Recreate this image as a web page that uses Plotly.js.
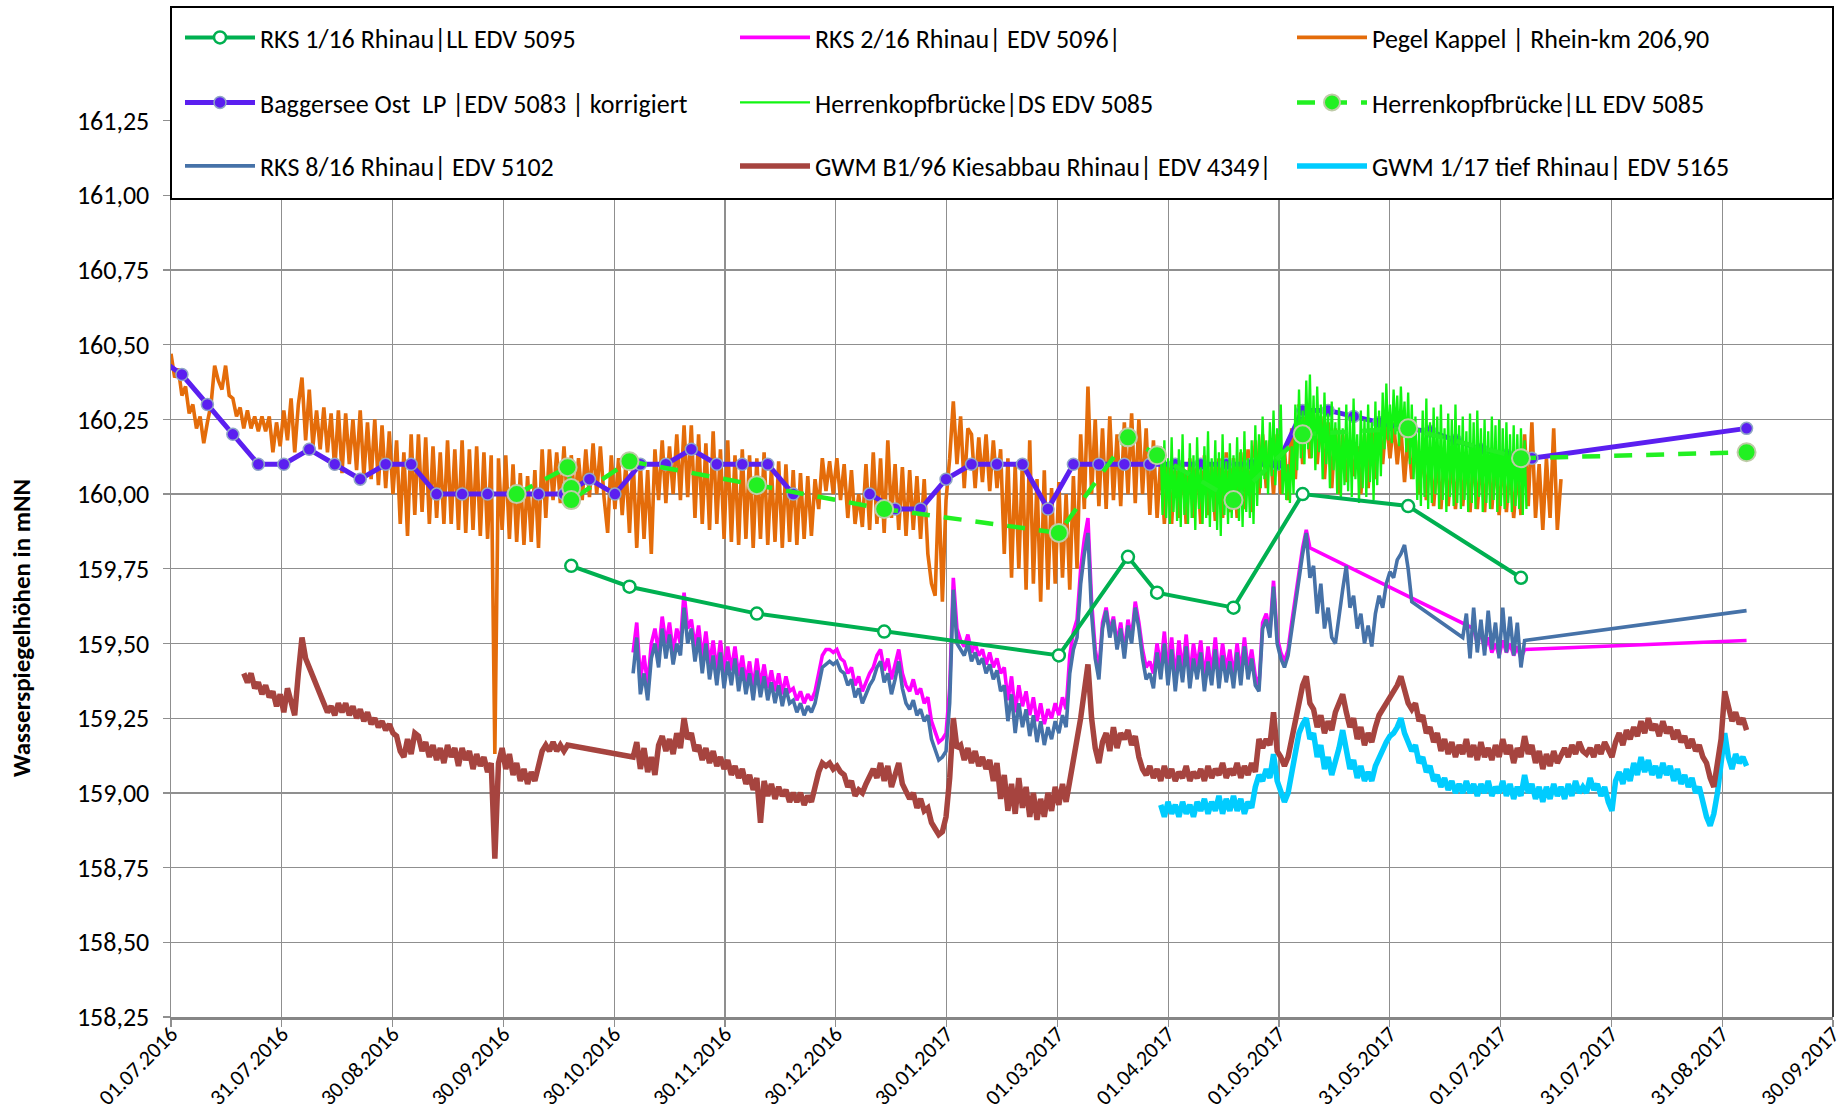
<!DOCTYPE html>
<html><head><meta charset="utf-8">
<script src="https://cdn.plot.ly/plotly-3.0.1.min.js"></script>
<style>html,body{margin:0;padding:0;background:#fff;}#chart{width:1845px;height:1115px;}</style>
</head><body><div id="chart"></div>
<script>
// ---------- DATA ----------
const yTickVals = [158.25,158.5,158.75,159,159.25,159.5,159.75,160,160.25,160.5,160.75,161,161.25];

// RKS 1/16 Rhinau | LL EDV 5095 (manual readings)
const rks1Dates = ['2016-10-19','2016-11-04','2016-12-09','2017-01-13','2017-03-02','2017-03-21','2017-03-29','2017-04-19','2017-05-08','2017-06-06','2017-07-07'];
const rks1Vals  = [159.76,159.69,159.60,159.54,159.46,159.79,159.67,159.62,160.00,159.96,159.72];

// Herrenkopfbrücke | LL EDV 5085 (manual readings)
const hkLLDates = ['2016-10-04','2016-10-18','2016-10-19','2016-10-19','2016-11-04','2016-12-09','2017-01-13','2017-03-02','2017-03-21','2017-03-29','2017-04-19','2017-05-08','2017-06-06','2017-07-07','2017-09-07'];
const hkLLVals  = [160.00,160.09,160.02,159.98,160.11,160.03,159.95,159.87,160.19,160.13,159.98,160.20,160.22,160.12,160.14];

// Baggersee Ost LP | EDV 5083 | korrigiert (weekly)
const bagDates = ['2016-06-27','2016-07-04','2016-07-11','2016-07-18','2016-07-25','2016-08-01','2016-08-08','2016-08-15','2016-08-22','2016-08-29','2016-09-05','2016-09-12','2016-09-19','2016-09-26','2016-10-03','2016-10-10','2016-10-17','2016-10-24','2016-10-31','2016-11-07','2016-11-14','2016-11-21','2016-11-28','2016-12-05','2016-12-12','2016-12-19','2016-12-30','2017-01-09','2017-01-16','2017-01-23','2017-01-30','2017-02-06','2017-02-13','2017-02-20','2017-02-27','2017-03-06','2017-03-13','2017-03-20','2017-03-27','2017-04-03','2017-04-10','2017-04-17','2017-04-24','2017-05-01','2017-05-08','2017-05-15','2017-05-22','2017-05-29','2017-06-05','2017-06-12','2017-06-19','2017-06-26','2017-07-03','2017-07-10','2017-09-07'];
const bagVals  = [160.46,160.40,160.30,160.20,160.10,160.10,160.15,160.10,160.05,160.10,160.10,160.00,160.00,160.00,160.00,160.00,160.00,160.05,160.00,160.10,160.10,160.15,160.10,160.10,160.10,160.00,null,160.00,159.95,159.95,160.05,160.10,160.10,160.10,159.95,160.10,160.10,160.10,160.10,160.10,160.10,160.10,160.10,160.10,160.28,160.28,160.26,160.24,160.22,160.21,160.18,160.15,160.13,160.12,160.22];

// Pegel Kappel | Rhein-km 206,90 (daily from 2016-07-01)
const pegelStart = '2016-07-01';
const pegelVals = [
160.47,160.39,160.42,160.33,160.36,160.27,160.30,160.22,160.26,160.17,
160.24,160.30,160.43,160.38,160.35,160.43,160.33,160.32,160.26,160.29,
160.22,160.28,160.22,160.26,160.21,160.26,160.21,160.26,160.14,160.24,
160.16,160.28,160.18,160.32,160.14,160.30,160.39,160.18,160.35,160.16,
160.28,160.15,160.29,160.14,160.27,160.08,160.28,160.07,160.27,160.10,
160.25,160.08,160.28,160.06,160.24,160.05,160.25,160.03,160.23,160.02,
160.21,160.00,160.18,159.90,160.14,159.86,160.20,159.93,160.20,159.94,
160.19,159.90,160.16,159.92,160.14,159.90,160.18,159.90,160.15,159.88,
160.18,159.87,160.15,159.88,160.16,159.86,160.14,159.85,160.13,159.13,
160.12,159.88,160.13,159.85,160.10,159.84,160.07,159.83,160.06,159.84,
160.08,159.82,160.15,159.92,160.15,159.98,160.14,159.97,160.16,159.96,
160.13,159.97,160.12,159.98,160.15,159.99,160.17,160.00,160.16,159.99,
159.87,160.13,159.95,160.12,159.93,160.10,159.87,160.12,159.82,160.10,
159.85,160.08,159.80,160.15,159.98,160.18,159.97,160.16,160.00,160.20,
159.98,160.23,159.99,160.23,159.92,160.20,159.90,160.17,159.88,160.21,
159.90,160.15,159.85,160.18,159.84,160.13,159.83,160.15,159.85,160.13,
159.82,160.12,159.85,160.14,159.83,160.09,159.84,160.11,159.82,160.10,
159.84,160.08,159.83,160.07,159.85,160.06,159.86,160.05,159.95,160.12,
160.01,160.11,160.00,160.12,159.98,160.10,159.92,160.08,159.90,160.00,
159.89,160.10,159.88,160.14,159.90,160.12,159.87,160.18,159.92,160.10,
159.88,160.09,159.86,160.08,159.88,160.06,159.85,160.05,159.80,159.70,
159.66,160.02,159.64,159.98,160.12,160.31,160.10,160.26,160.02,160.22,
160.20,160.02,160.19,160.04,160.20,160.01,160.18,160.02,160.15,159.80,
160.12,159.72,160.10,159.75,160.12,159.68,160.18,159.70,160.05,159.64,
160.08,159.68,160.02,159.70,160.04,159.72,160.00,159.68,160.06,159.75,
160.20,159.95,160.36,160.00,160.25,159.96,160.22,159.95,160.26,159.98,
160.20,159.96,160.24,160.00,160.27,159.97,160.25,160.00,160.22,159.93,
160.18,159.92,160.12,159.90,160.10,159.90,160.12,159.92,160.10,159.90,
160.12,159.92,160.11,159.90,160.13,159.93,160.10,159.91,160.12,159.92,
160.14,159.94,160.12,159.92,160.14,159.95,160.15,159.94,160.18,160.00,
160.20,160.02,160.18,160.00,160.20,160.00,160.15,159.98,160.22,160.05,
160.30,160.10,160.28,160.12,160.27,160.10,160.26,160.05,160.24,160.02,
160.22,160.00,160.20,160.04,160.18,160.06,160.16,160.00,160.20,160.02,
160.22,160.05,160.25,160.10,160.26,160.12,160.24,160.10,160.22,160.04,
160.20,160.05,160.18,160.00,160.15,159.98,160.14,159.96,160.12,159.95,
160.14,159.96,160.12,159.95,160.14,159.96,160.12,159.94,160.13,159.95,
160.12,159.94,160.13,159.95,160.12,159.93,160.12,159.94,160.10,159.92,
160.08,159.93,160.20,159.96,160.24,159.92,160.10,159.88,160.12,159.92,
160.22,159.88,160.05];

// Herrenkopfbrücke | DS EDV 5085 (twice daily from 2017-03-30)
const hkDSStart = '2017-03-30';
const hkDSVals = [
160.16,159.93,160.18,159.92,160.12,159.90,160.19,159.94,160.10,159.91,160.15,159.89,160.20,159.93,160.08,159.90,160.17,159.92,160.13,159.88,
160.19,159.95,160.09,159.90,160.16,159.92,160.21,159.89,160.12,159.94,160.18,159.88,160.14,159.86,160.20,159.93,160.11,159.90,160.17,159.92,
160.13,159.95,160.19,159.91,160.15,159.89,160.21,159.94,160.12,159.92,160.18,159.90,160.23,159.96,160.20,160.02,160.26,160.05,160.18,160.00,
160.24,160.06,160.28,160.03,160.22,160.08,160.30,160.00,160.14,159.98,160.10,159.97,160.16,160.00,160.30,160.08,160.35,160.12,160.28,160.10,
160.38,160.15,160.40,160.12,160.33,160.08,160.36,160.14,160.30,160.05,160.34,160.10,160.27,160.02,160.31,160.08,160.24,160.00,160.29,159.98,
160.22,160.03,160.30,160.01,160.26,159.99,160.32,160.05,160.20,159.97,160.28,160.02,160.25,159.99,160.30,160.04,160.24,159.98,160.31,160.03,
160.28,160.06,160.34,160.15,160.37,160.18,160.30,160.17,160.35,160.20,160.33,160.16,160.36,160.19,160.31,160.14,160.34,160.10,160.30,160.05,
160.26,159.98,160.22,159.96,160.28,159.99,160.32,159.95,160.24,159.97,160.29,160.00,160.26,159.95,160.30,159.98,160.22,159.94,160.27,159.99,
160.25,159.96,160.30,159.97,160.23,159.95,160.26,159.98,160.21,159.94,160.27,159.97,160.24,159.95,160.28,159.99,160.22,159.94,160.25,159.97,
160.21,159.95,160.26,159.98,160.23,159.94,160.25,159.96,160.22,159.95,160.24,159.97,160.20,159.94,160.23,159.96,160.20,159.95,160.22,159.93,
160.18,159.95];

// RKS 8/16 Rhinau | EDV 5102 (daily, two records + last value)
const rks8Start1 = '2016-11-05';
const rks8Vals1 = [
159.40,159.52,159.33,159.40,159.31,159.45,159.50,159.42,159.55,159.45,
159.53,159.43,159.50,159.46,159.62,159.50,159.55,159.44,159.52,159.40,
159.50,159.38,159.46,159.36,159.47,159.35,159.44,159.36,159.45,159.34,
159.42,159.33,159.40,159.31,159.41,159.32,159.39,159.31,159.37,159.30,
159.36,159.29,159.35,159.30,159.31,159.27,159.30,159.26,159.29,159.27,
159.30,159.36,159.42,159.43,159.44,159.43,159.44,159.41,159.40,159.36,
159.38,159.32,159.35,159.30,159.33,159.36,159.38,159.42,159.44,159.37,
159.40,159.33,159.38,159.44,159.35,159.30,159.28,159.31,159.26,159.28,
159.24,159.26,159.18,159.14,159.11,159.12,159.14,159.30,159.68,159.50,
159.48,159.46,159.50,159.44,159.47,159.43,159.45,159.40,159.43,159.38,
159.41,159.34,159.36,159.24,159.33,159.20,159.30,159.22,159.28,159.19,
159.26,159.17,159.24,159.16,159.22,159.18,159.24,159.20,159.26,159.22,
159.40,159.48,159.52,159.70,159.80,159.87,159.60,159.45,159.38,159.55,
159.61,159.52,159.58,159.48,159.55,159.45,159.56,159.50,159.62,159.55,
159.45,159.38,159.40,159.35,159.47,159.38,159.50,159.36,159.48,159.34,
159.46,159.37,159.49,159.35,159.45,159.38,159.47,159.34,159.44,159.36,
159.48,159.35,159.46,159.37,159.44,159.35,159.47,159.36,159.49,159.38,
159.45,159.36,159.34,159.55,159.58,159.52,159.69,159.50,159.45,159.42,
159.46,159.55,159.64,159.72,159.80,159.87,159.72,159.76,159.60,159.70,
159.55,159.62,159.52,159.50,159.60,159.68,159.76,159.62,159.66,159.55,
159.60,159.50,159.56,159.49,159.60,159.66,159.62,159.70,159.74,159.72,
159.78,159.80,159.83,159.75,159.64];
const rks8Start2 = '2017-06-21';
const rks8Vals2 = [159.52,159.60,159.45,159.62,159.47,159.58,159.46,159.61,159.48,159.57,159.45,159.62,159.47,159.59,159.46,159.57,159.42,159.51];
const rks8LastDate = '2017-09-07', rks8LastVal = 159.61;

// RKS 2/16 Rhinau | EDV 5096
const rks2Start1 = '2016-11-05';
const rks2Vals1 = [
159.47,159.57,159.38,159.46,159.36,159.50,159.55,159.47,159.59,159.50,
159.57,159.47,159.55,159.50,159.67,159.55,159.58,159.49,159.56,159.45,
159.54,159.43,159.51,159.41,159.51,159.40,159.49,159.41,159.49,159.39,
159.46,159.37,159.44,159.35,159.45,159.36,159.43,159.35,159.41,159.34,
159.40,159.33,159.39,159.34,159.35,159.31,159.34,159.30,159.33,159.31,
159.34,159.40,159.46,159.48,159.48,159.47,159.48,159.45,159.44,159.40,
159.42,159.36,159.39,159.34,159.37,159.40,159.42,159.46,159.48,159.41,
159.45,159.38,159.43,159.48,159.40,159.36,159.34,159.38,159.33,159.35,
159.30,159.32,159.24,159.20,159.17,159.18,159.20,159.35,159.72,159.55,
159.51,159.49,159.53,159.47,159.50,159.46,159.48,159.43,159.47,159.42,
159.45,159.40,159.42,159.31,159.39,159.27,159.36,159.29,159.34,159.26,
159.32,159.24,159.30,159.23,159.28,159.25,159.30,159.26,159.32,159.28,
159.46,159.54,159.58,159.75,159.85,159.92,159.64,159.48,159.41,159.57,
159.62,159.54,159.59,159.50,159.57,159.47,159.58,159.52,159.64,159.57,
159.48,159.42,159.44,159.40,159.50,159.42,159.54,159.40,159.52,159.38,
159.51,159.41,159.53,159.39,159.50,159.42,159.51,159.38,159.49,159.40,
159.52,159.39,159.50,159.41,159.48,159.39,159.50,159.40,159.52,159.41,
159.48,159.39,159.36,159.57,159.60,159.54,159.71,159.52,159.47,159.44,
159.48,159.57,159.66,159.74,159.82,159.88,159.82];
const rks2Start2 = '2017-06-24';
const rks2Vals2 = [159.55,159.50,159.54,159.48,159.52,159.47,159.50,159.46,159.51,159.47,159.50,159.46,159.49,159.45,159.48];
const rks2LastDate = '2017-09-07', rks2LastVal = 159.51;

// GWM B1/96 Kiesabbau Rhinau | EDV 4349
const gwmB1Start1 = '2016-07-21';
const gwmB1Vals1 = [
159.40,159.37,159.40,159.35,159.37,159.33,159.36,159.32,159.34,159.29,
159.33,159.27,159.35,159.30,159.26,159.40,159.52,159.45,159.42,159.38,
159.35,159.32,159.30,159.27,159.29,159.26,159.30,159.27,159.30,159.26,
159.29,159.25,159.28,159.24,159.27,159.23,159.25,159.22,159.24,159.21,
159.23,159.20,159.19,159.14,159.12,159.18,159.13,159.20,159.19,159.14,
159.17,159.12,159.16,159.11,159.15,159.10,159.16,159.12,159.15,159.09,
159.15,159.11,159.14,159.08,159.13,159.09,159.12,159.07,159.10,158.78,
159.10,159.15,159.08,159.13,159.06,159.10,159.04,159.08,159.03,159.07,
159.04,159.09,159.14,159.16,159.14,159.17,159.14,159.16,159.14,159.16];
const gwmB1Start2 = '2016-11-05';
const gwmB1Vals2 = [
159.12,159.17,159.08,159.15,159.07,159.12,159.06,159.16,159.19,159.14,
159.18,159.13,159.20,159.15,159.25,159.18,159.20,159.14,159.16,159.11,
159.15,159.10,159.14,159.09,159.12,159.08,159.11,159.06,159.09,159.05,
159.08,159.03,159.06,159.01,159.05,158.90,159.04,158.99,159.03,158.98,
159.02,158.99,159.01,158.97,159.00,158.97,159.00,158.96,158.99,158.97,
159.02,159.07,159.10,159.09,159.10,159.08,159.09,159.07,159.06,159.02,
159.04,158.99,159.01,159.00,159.03,159.06,159.08,159.05,159.10,159.04,
159.09,159.02,159.06,159.10,159.03,159.00,158.98,159.00,158.95,158.98,
158.94,158.95,158.90,158.88,158.86,158.87,158.92,159.05,159.25,159.15,
159.16,159.11,159.15,159.10,159.14,159.09,159.12,159.08,159.11,159.04,
159.10,158.98,159.06,158.94,159.03,158.93,159.05,158.95,159.02,158.92,
159.00,158.91,158.98,158.92,159.00,158.94,159.02,158.96,159.03,158.97,
159.05,159.12,159.18,159.25,159.35,159.43,159.25,159.15,159.10,159.17,
159.20,159.14,159.22,159.15,159.20,159.18,159.21,159.16,159.19,159.12,
159.08,159.06,159.09,159.05,159.08,159.04,159.09,159.05,159.08,159.04,
159.07,159.05,159.09,159.04,159.07,159.05,159.08,159.04,159.09,159.05,
159.08,159.06,159.10,159.05,159.08,159.06,159.10,159.05,159.09,159.06,
159.10,159.07,159.18,159.15,159.18,159.16,159.27,159.14,159.12,159.09,
159.12,159.18,159.26,159.32,159.36,159.39,159.30,159.28,159.22,159.26,
159.20,159.24,159.21,159.27,159.30,159.33,159.27,159.22,159.25,159.18,
159.22,159.16,159.20,159.17,159.22,159.26,159.28,159.30,159.32,159.34,
159.36,159.39,159.35,159.30,159.28,159.30,159.24,159.26,159.20,159.22,
159.17,159.20,159.14,159.18,159.13,159.17,159.12,159.16,159.13,159.18,
159.12,159.16,159.11,159.17,159.12,159.15,159.11,159.16,159.12,159.18,
159.13,159.16,159.10,159.15,159.12,159.19,159.13,159.16,159.10,159.14,
159.08,159.13,159.09,159.14,159.10,159.13,159.15,159.12,159.16,159.13,
159.17,159.14,159.13,159.15,159.12,159.16,159.13,159.17,159.14,159.12,
159.17,159.20,159.16,159.21,159.18,159.22,159.19,159.24,159.20,159.25,
159.21,159.23,159.19,159.24,159.20,159.22,159.18,159.21,159.17,159.19,
159.15,159.18,159.14,159.16,159.12,159.10,159.05,159.02,159.10,159.18,
159.34,159.28,159.24,159.27,159.23,159.25,159.21];

// GWM 1/17 tief Rhinau | EDV 5165
const gwm117Start = '2017-03-30';
const gwm117Vals = [
158.96,158.92,158.97,158.93,158.96,158.92,158.97,158.93,158.96,158.92,
158.97,158.94,158.98,158.93,158.97,158.94,158.99,158.93,158.98,158.94,
158.99,158.94,158.98,158.93,158.97,158.95,159.02,159.06,159.04,159.08,
159.05,159.13,159.04,159.00,158.97,159.00,159.06,159.14,159.20,159.23,
159.25,159.18,159.20,159.12,159.16,159.08,159.12,159.06,159.10,159.15,
159.21,159.14,159.08,159.11,159.05,159.09,159.04,159.07,159.04,159.09,
159.12,159.15,159.17,159.19,159.20,159.22,159.25,159.20,159.17,159.14,
159.16,159.10,159.12,159.07,159.09,159.04,159.06,159.02,159.05,159.01,
159.04,159.00,159.03,159.00,159.04,159.00,159.03,158.99,159.03,159.00,
159.04,158.99,159.02,159.00,159.04,158.99,159.03,158.98,159.02,158.99,
159.06,159.00,159.03,158.98,159.02,158.97,159.02,158.98,159.03,158.99,
159.02,158.98,159.03,158.99,159.04,159.00,159.02,159.00,159.05,159.01,
159.03,158.99,159.02,158.97,158.94,159.04,159.07,159.03,159.08,159.04,
159.10,159.06,159.12,159.07,159.11,159.06,159.09,159.05,159.10,159.06,
159.09,159.04,159.08,159.03,159.06,159.02,159.05,159.00,159.02,158.96,
158.92,158.89,158.93,159.00,159.10,159.20,159.12,159.08,159.13,159.10,
159.12,159.09];

// ---------- HELPERS ----------
const DAY = 86400000;
function datesFrom(start, n, step) {
  const t0 = Date.parse(start + 'T00:00:00Z');
  const out = [];
  for (let i = 0; i < n; i++) out.push(new Date(t0 + i * step * DAY).toISOString().slice(0, 16).replace('T', ' '));
  return out;
}

const FONT = 'Carlito, Lato, "Open Sans", sans-serif';
const C = {
  orange: '#E46C0A', purple: '#5B1FF0', llGreen: '#22F022', dsGreen: '#12F512',
  rks1: '#00B050', blue: '#4672A8', magenta: '#FF00FF', brown: '#A6443F', cyan: '#00CCFF'
};

const traces = [
  { name: 'GWM 1/17 tief Rhinau| EDV 5165', legend: 'legend9',
    x: datesFrom(gwm117Start, gwm117Vals.length, 1), y: gwm117Vals,
    mode: 'lines', line: { color: C.cyan, width: 5.5 } },
  { name: 'GWM B1/96 Kiesabbau Rhinau| EDV 4349|', legend: 'legend8',
    x: datesFrom(gwmB1Start1, gwmB1Vals1.length, 1).concat(datesFrom(gwmB1Start2, gwmB1Vals2.length, 1)),
    y: gwmB1Vals1.concat(gwmB1Vals2),
    mode: 'lines', line: { color: C.brown, width: 5.5 } },
  { name: 'Pegel Kappel | Rhein-km 206,90', legend: 'legend3',
    x: datesFrom(pegelStart, pegelVals.length, 1), y: pegelVals,
    mode: 'lines', line: { color: C.orange, width: 3.6 } },
  { name: 'RKS 2/16 Rhinau| EDV 5096|', legend: 'legend2',
    x: datesFrom(rks2Start1, rks2Vals1.length, 1).concat(datesFrom(rks2Start2, rks2Vals2.length, 1), [rks2LastDate]),
    y: rks2Vals1.concat(rks2Vals2, [rks2LastVal]),
    mode: 'lines', line: { color: C.magenta, width: 3.6 } },
  { name: 'RKS 8/16 Rhinau| EDV 5102', legend: 'legend7',
    x: datesFrom(rks8Start1, rks8Vals1.length, 1).concat(datesFrom(rks8Start2, rks8Vals2.length, 1), [rks8LastDate]),
    y: rks8Vals1.concat(rks8Vals2, [rks8LastVal]),
    mode: 'lines', line: { color: C.blue, width: 3.6 } },
  { name: 'Baggersee Ost  LP |EDV 5083 | korrigiert', legend: 'legend4',
    x: bagDates, y: bagVals, mode: 'lines+markers', connectgaps: false,
    line: { color: C.purple, width: 5 },
    marker: { symbol: 'circle', size: 12, color: C.purple, line: { color: '#8FA6C6', width: 1.5 } } },
  { name: 'Herrenkopfbrücke|DS EDV 5085', legend: 'legend5',
    x: datesFrom(hkDSStart, hkDSVals.length, 0.5), y: hkDSVals,
    mode: 'lines', line: { color: C.dsGreen, width: 2.3 } },
  { name: 'Herrenkopfbrücke|LL EDV 5085', legend: 'legend6',
    x: hkLLDates, y: hkLLVals, mode: 'lines+markers',
    line: { color: C.llGreen, width: 4.5, dash: '18px,14px' },
    marker: { symbol: 'circle', size: 18, color: C.llGreen, line: { color: '#BFCBA8', width: 2 } } },
  { name: 'RKS 1/16 Rhinau|LL EDV 5095', legend: 'legend',
    x: rks1Dates, y: rks1Vals, mode: 'lines+markers',
    line: { color: C.rks1, width: 4 },
    marker: { symbol: 'circle', size: 12, color: '#FFFFFF', line: { color: C.rks1, width: 2.5 } } }
];

// plot area in px
const PL = 171, PR = 1833, PT = 6, PB = 1017;
const W = PR - PL, H = PB - PT;
const px2x = p => (p - PL) / W;
const px2y = p => (PB - p) / H;

// legend grid (3 columns x 3 rows)
const legendCols = [180, 735, 1292];
const legendRows = [37.5, 102.5, 166];
const legendIds = ['legend','legend2','legend3','legend4','legend5','legend6','legend7','legend8','legend9'];

const layout = {
  width: 1845, height: 1115,
  margin: { l: PL, r: 1845 - PR, t: PT, b: 1115 - PB, autoexpand: false },
  paper_bgcolor: '#FFFFFF', plot_bgcolor: '#FFFFFF',
  separators: ',.',
  font: { family: FONT, size: 22, color: '#000' },
  showlegend: true,
  xaxis: {
    type: 'date', range: ['2016-07-01', '2017-09-30 18:10'],
    tick0: '2016-07-01', dtick: 30.45 * DAY, tickformat: '%d.%m.%Y', tickangle: -45,
    showgrid: true, gridcolor: '#8F8F8F', gridwidth: 1.3,
    showline: true, linecolor: '#868686', linewidth: 2.5,
    ticks: 'outside', ticklen: 7, tickcolor: '#8F8F8F', tickwidth: 1.3,
    ticklabelstandoff: -14, ticklabeloverflow: 'allow',
    tickfont: { family: FONT, size: 22, color: '#000' },
    zeroline: false, automargin: false, fixedrange: true
  },
  yaxis: {
    range: [158.25, 158.25 + (H / 74.7) * 0.25],
    tickmode: 'array', tickvals: yTickVals, tickformat: '.2f',
    showgrid: true, gridcolor: '#8F8F8F', gridwidth: 1.3,
    showline: true, linecolor: '#8F8F8F', linewidth: 1.5,
    ticks: 'outside', ticklen: 7, tickcolor: '#8F8F8F', tickwidth: 1.3,
    ticklabelstandoff: 8,
    tickfont: { family: FONT, size: 26, color: '#000' },
    zeroline: false, automargin: false, fixedrange: true
  },
  shapes: [
    { type: 'rect', xref: 'paper', yref: 'paper', x0: 0, x1: 1, y0: px2y(199), y1: px2y(7),
      fillcolor: '#FFFFFF', line: { color: '#000000', width: 2 }, layer: 'above' },
    { type: 'line', xref: 'paper', yref: 'paper', x0: 1, x1: 1, y0: 0, y1: px2y(199),
      line: { color: '#404040', width: 2 }, layer: 'above' }
  ],
  annotations: [
    { text: '<b>Wasserspiegelhöhen in mNN</b>', xref: 'paper', yref: 'paper',
      x: px2x(21), y: px2y(628), textangle: -90, showarrow: false,
      xanchor: 'center', yanchor: 'middle', font: { family: FONT, size: 25, color: '#000' } }
  ]
};
legendIds.forEach((id, i) => {
  layout[id] = {
    orientation: 'h', xanchor: 'left', yanchor: 'middle',
    x: px2x(legendCols[i % 3]), y: px2y(legendRows[Math.floor(i / 3)]),
    bgcolor: 'rgba(0,0,0,0)', borderwidth: 0,
    font: { family: FONT, size: 26, color: '#000' },
    itemwidth: 70, itemclick: false, itemdoubleclick: false
  };
});

Plotly.newPlot('chart', traces, layout, { staticPlot: true, displayModeBar: false });
</script></body></html>
